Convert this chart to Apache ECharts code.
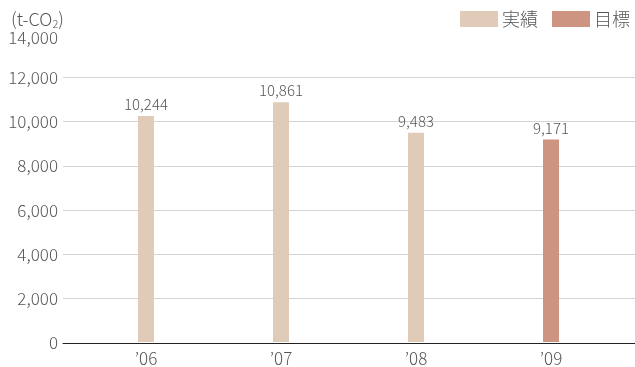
<!DOCTYPE html>
<html>
<head>
<meta charset="utf-8">
<script src="https://cdn.jsdelivr.net/npm/echarts@6/dist/echarts.min.js"></script>
<style>
html,body{margin:0;padding:0;background:#fff;}
#chart{width:635px;height:367px;}
</style>
</head>
<body>
<div id="chart"></div>
<script>
// CO2 emissions by fiscal year: results and target
const years = ["\u201906", "\u201907", "\u201908", "\u201909"];
const actual = [10244, 10861, 9483, null];
const target = [null, null, null, 9171];
const yTicks = [0, 2000, 4000, 6000, 8000, 10000, 12000, 14000];

const FONT = '"Noto Sans CJK JP", "Noto Sans", sans-serif';
const TXT = '#555';
const yMax = yTicks[yTicks.length - 1];
const yStep = yTicks[1] - yTicks[0];

const chart = echarts.init(document.getElementById('chart'));
const valueLabel = {
  show: true, position: 'top', distance: 4,
  color: TXT, fontFamily: FONT, fontSize: 15, fontWeight: 300,
  formatter: p => p.value == null ? '' : p.value.toLocaleString('en-US')
};

chart.setOption({
  animation: false,
  textStyle: { fontFamily: FONT },
  title: {
    text: '(t-CO{s|2})', left: 6, top: 4,
    textStyle: {
      color: TXT, fontSize: 18, fontWeight: 300, fontFamily: FONT,
      rich: { s: { fontSize: 11, color: TXT, fontWeight: 300, padding: [9, 0, 0, 0] } }
    }
  },
  legend: {
    right: 0, top: 5, itemWidth: 38, itemHeight: 16, itemGap: 14,
    icon: 'rect',
    textStyle: { color: TXT, fontSize: 18, fontFamily: FONT, fontWeight: 300, padding: [0, 0, 0, -1] },
    data: ['実績', '目標']
  },
  grid: [
    { left: 78.5, width: 540, top: 33, bottom: 24 },
    { left: 63, right: 0, top: 33, bottom: 24 }
  ],
  xAxis: [
    {
      type: 'category', gridIndex: 0, data: years,
      axisLine: { show: false }, axisTick: { show: false },
      axisLabel: { color: TXT, fontSize: 17, fontFamily: FONT, fontWeight: 300, margin: 8 }
    },
    {
      type: 'value', gridIndex: 1, min: 0, max: 1,
      axisLine: { show: true, lineStyle: { color: '#222', width: 1 } },
      axisTick: { show: false }, axisLabel: { show: false }, splitLine: { show: false }
    }
  ],
  yAxis: [
    {
      type: 'value', gridIndex: 0, min: 0, max: yMax, interval: yStep,
      axisLabel: { show: false }, axisLine: { show: false }, axisTick: { show: false },
      splitLine: { show: false }
    },
    {
      type: 'value', gridIndex: 1, min: 0, max: yMax, interval: yStep,
      axisLine: { show: false }, axisTick: { show: false },
      axisLabel: {
        color: TXT, fontSize: 17, fontFamily: FONT, fontWeight: 300, margin: 5,
        formatter: v => v === yMax ? '{t|' + v.toLocaleString('en-US') + '}' : v.toLocaleString('en-US'),
        rich: { t: { color: TXT, fontSize: 17, fontFamily: FONT, fontWeight: 300, padding: [10, 0, 0, 0] } }
      },
      splitLine: {
        show: true,
        lineStyle: { color: yTicks.map((v, i) => i === yTicks.length - 1 ? 'rgba(0,0,0,0)' : '#d4d4d4'), width: 1 }
      }
    }
  ],
  series: [
    {
      name: '実績', type: 'bar', xAxisIndex: 0, yAxisIndex: 0, stack: 'v',
      data: actual, barWidth: 16, itemStyle: { color: '#e0cbb9' }, label: valueLabel
    },
    {
      name: '目標', type: 'bar', xAxisIndex: 0, yAxisIndex: 0, stack: 'v',
      data: target, barWidth: 16, itemStyle: { color: '#cd9482' }, label: valueLabel
    }
  ]
});
</script>
</body>
</html>
